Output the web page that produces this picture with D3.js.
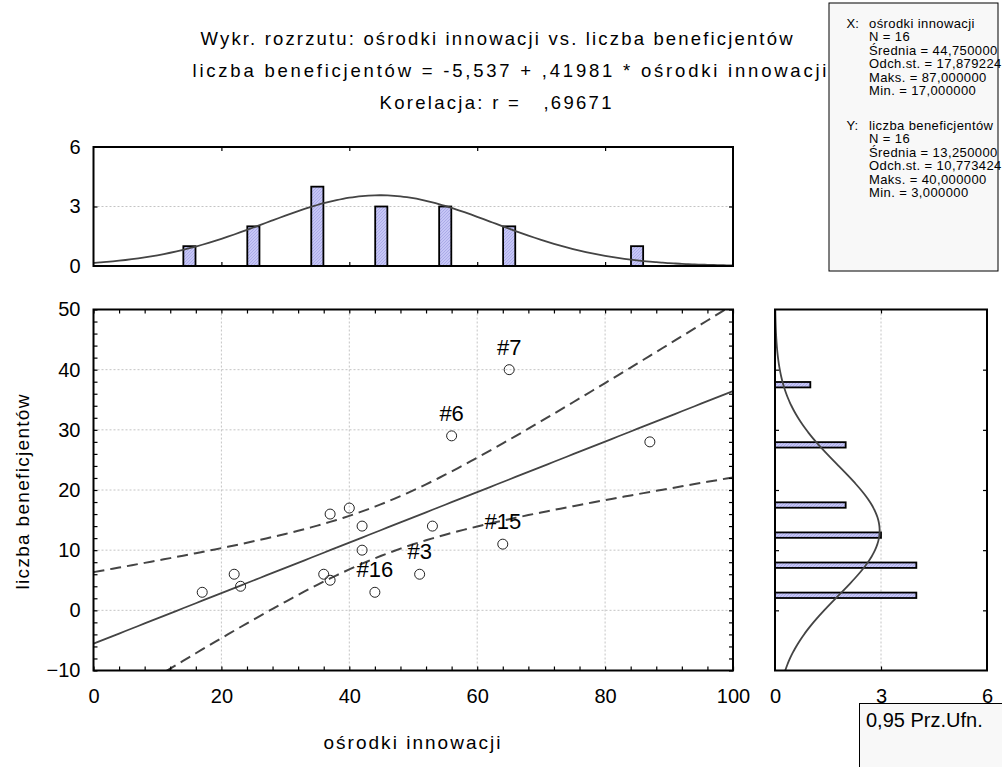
<!DOCTYPE html>
<html>
<head>
<meta charset="utf-8">
<script src="https://cdn.jsdelivr.net/npm/d3@7"></script>
<style>
  body { margin: 0; background: #fff; }
  svg text { font-family: 'Liberation Sans', Arial, sans-serif; fill: #000; }
</style>
</head>
<body>
<div id="chart"></div>
<script>
// values (case number = index + 1)
const caseX = [42, 37, 51, 22, 40, 56, 65, 36, 23, 87, 42, 17, 37, 53, 64, 44]
const caseY = [14, 16, 6, 6, 17, 29, 40, 6, 4, 28, 10, 3, 5, 14, 11, 3]
const labeledCases = [3, 6, 7, 15, 16]

const histXCenters = [15, 25, 35, 45, 55, 65, 85]
const histXCounts = [1, 2, 4, 3, 3, 2, 1]
const histYCenters = [2.5, 7.5, 12.5, 17.5, 27.5, 37.5]
const histYCounts = [4, 4, 3, 2, 2, 1]

const xTicks = [0, 20, 40, 60, 80, 100]
const yTicks = [-10, 0, 10, 20, 30, 40, 50]
const countTicks = [0, 3, 6]

// summary stats shown in the chart
const n = 16
const xMean = 44.75
const xSd = 17.879224
const xMax = 87
const xMin = 17
const yMean = 13.25
const ySd = 10.773424
const yMax = 40
const yMin = 3
const intercept = -5.537
const slope = 0.41981
const r = 0.69671
const tCrit = 2.1448 // t(0.975, 14)

const xName = 'ośrodki innowacji'
const yName = 'liczba beneficjentów'

const width = 1002
const height = 767

const main = { left: 93.5, right: 733, top: 309.5, bottom: 670.5 }
const topPanel = { top: 147, bottom: 266 }
const side = { left: 775, right: 987 }

const svg = d3
  .select('#chart')
  .append('svg')
  .attr('width', width)
  .attr('height', height)

// Scales

const xScale = d3.scaleLinear().domain([0, 100]).range([main.left, main.right])
const yScale = d3.scaleLinear().domain([-10, 50]).range([main.bottom, main.top])
const topCount = d3.scaleLinear().domain([0, 6]).range([topPanel.bottom, topPanel.top])
const sideCount = d3.scaleLinear().domain([0, 6]).range([side.left, side.right])

// hatch fill for the bars
const defs = svg.append('defs')
const pat = defs
  .append('pattern')
  .attr('id', 'hatch')
  .attr('patternUnits', 'userSpaceOnUse')
  .attr('width', 3)
  .attr('height', 3)
pat.append('rect').attr('width', 3).attr('height', 3).attr('fill', '#c6c6f6')
pat
  .append('path')
  .attr('d', 'M0,3 L3,0')
  .attr('stroke', '#a4a4e4')
  .attr('stroke-width', 0.8)

function clip(id, x, y, w, h) {
  defs
    .append('clipPath')
    .attr('id', id)
    .append('rect')
    .attr('x', x)
    .attr('y', y)
    .attr('width', w)
    .attr('height', h)
}
clip('clip-main', main.left, main.top, main.right - main.left, main.bottom - main.top)
clip('clip-top', main.left, topPanel.top, main.right - main.left, topPanel.bottom - topPanel.top)
clip('clip-side', side.left, main.top, side.right - side.left, main.bottom - main.top)

// Titles

const titleLines = [
  { text: 'Wykr. rozrzutu: ' + xName + ' vs. ' + yName, x: 200.5, y: 45, len: 592 },
  { text: yName + ' = -5,537 + ,41981 * ' + xName, x: 192.5, y: 77, len: 634 },
  { text: 'Korelacja: r =   ,69671', x: 379.5, y: 108.5, len: 232 }
]

svg
  .selectAll('.title')
  .data(titleLines)
  .enter()
  .append('text')
  .attr('class', 'title')
  .attr('x', d => d.x)
  .attr('y', d => d.y)
  .attr('font-size', 18.5)
  .attr('textLength', d => d.len)
  .attr('lengthAdjust', 'spacing')
  .style('white-space', 'pre')
  .text(d => d.text)

// Grid lines

const gridStyle = g =>
  g.attr('stroke', '#c4c4c4').attr('stroke-width', 1).attr('stroke-dasharray', '2,2')

svg
  .append('g')
  .call(gridStyle)
  .selectAll('line')
  .data([20, 40, 60, 80])
  .enter()
  .append('line')
  .attr('x1', d => xScale(d))
  .attr('x2', d => xScale(d))
  .attr('y1', main.top)
  .attr('y2', main.bottom)

svg
  .append('g')
  .call(gridStyle)
  .selectAll('line')
  .data([0, 10, 20, 30, 40])
  .enter()
  .append('line')
  .attr('x1', main.left)
  .attr('x2', main.right)
  .attr('y1', d => yScale(d))
  .attr('y2', d => yScale(d))

svg
  .append('line')
  .call(gridStyle)
  .attr('x1', main.left)
  .attr('x2', main.right)
  .attr('y1', topCount(3))
  .attr('y2', topCount(3))

svg
  .append('line')
  .call(gridStyle)
  .attr('x1', sideCount(3))
  .attr('x2', sideCount(3))
  .attr('y1', main.top)
  .attr('y2', main.bottom)

// Top histogram

svg
  .append('g')
  .selectAll('rect')
  .data(histXCenters)
  .enter()
  .append('rect')
  .attr('x', d => xScale(d - 0.95))
  .attr('width', d => xScale(d + 0.95) - xScale(d - 0.95))
  .attr('y', (d, i) => topCount(histXCounts[i]))
  .attr('height', (d, i) => topCount(0) - topCount(histXCounts[i]))
  .attr('fill', 'url(#hatch)')
  .attr('stroke', '#000')
  .attr('stroke-width', 1.8)

// fitted normal curve: n * bin width * pdf
const topCurve = d3.range(0, 100.5, 1).map(v => {
  const z = (v - xMean) / xSd
  return [v, (n * 10 * Math.exp(-0.5 * z * z)) / (xSd * Math.sqrt(2 * Math.PI))]
})

svg
  .append('path')
  .datum(topCurve)
  .attr('clip-path', 'url(#clip-top)')
  .attr('fill', 'none')
  .attr('stroke', '#444')
  .attr('stroke-width', 1.8)
  .attr('d', d3.line().x(d => xScale(d[0])).y(d => topCount(d[1])).curve(d3.curveBasis))

// Side histogram

svg
  .append('g')
  .selectAll('rect')
  .data(histYCenters)
  .enter()
  .append('rect')
  .attr('x', side.left)
  .attr('width', (d, i) => sideCount(histYCounts[i]) - side.left)
  .attr('y', d => yScale(d + 0.45))
  .attr('height', d => yScale(d - 0.45) - yScale(d + 0.45))
  .attr('fill', 'url(#hatch)')
  .attr('stroke', '#000')
  .attr('stroke-width', 1.8)

const sideCurve = d3.range(-10, 50.5, 0.5).map(v => {
  const z = (v - yMean) / ySd
  return [v, (n * 5 * Math.exp(-0.5 * z * z)) / (ySd * Math.sqrt(2 * Math.PI))]
})

svg
  .append('path')
  .datum(sideCurve)
  .attr('clip-path', 'url(#clip-side)')
  .attr('fill', 'none')
  .attr('stroke', '#444')
  .attr('stroke-width', 1.8)
  .attr('d', d3.line().x(d => sideCount(d[1])).y(d => yScale(d[0])).curve(d3.curveBasis))

// Regression line and 0.95 confidence band

const sResid = Math.sqrt(((1 - r * r) * (n - 1) * ySd * ySd) / (n - 2))
const ssx = (n - 1) * xSd * xSd
const band = d3.range(0, 100.5, 1).map(v => {
  const fit = intercept + slope * v
  const hw = tCrit * sResid * Math.sqrt(1 / n + ((v - xMean) * (v - xMean)) / ssx)
  return { x: v, fit: fit, lo: fit - hw, hi: fit + hw }
})

const plotArea = svg.append('g').attr('clip-path', 'url(#clip-main)')

plotArea
  .append('path')
  .datum(band)
  .attr('fill', 'none')
  .attr('stroke', '#444')
  .attr('stroke-width', 1.8)
  .attr('d', d3.line().x(d => xScale(d.x)).y(d => yScale(d.fit)))

;['lo', 'hi'].forEach(key => {
  plotArea
    .append('path')
    .datum(band)
    .attr('fill', 'none')
    .attr('stroke', '#444')
    .attr('stroke-width', 2)
    .attr('stroke-dasharray', '11,6')
    .attr('d', d3.line().x(d => xScale(d.x)).y(d => yScale(d[key])))
})

// Points

plotArea
  .selectAll('circle')
  .data(caseX)
  .enter()
  .append('circle')
  .attr('cx', d => xScale(d))
  .attr('cy', (d, i) => yScale(caseY[i]))
  .attr('r', 5)
  .attr('fill', 'none')
  .attr('stroke', '#222')
  .attr('stroke-width', 1)

svg
  .selectAll('.case-label')
  .data(labeledCases)
  .enter()
  .append('text')
  .attr('class', 'case-label')
  .attr('x', d => xScale(caseX[d - 1]))
  .attr('y', d => yScale(caseY[d - 1]) - 15)
  .attr('text-anchor', 'middle')
  .attr('font-size', 22)
  .text(d => '#' + d)

// Axes: tick marks pointing inward on every side

function ticks(axis, transform) {
  svg
    .append('g')
    .attr('transform', transform)
    .call(axis.tickFormat('').tickSizeOuter(0))
    .call(g => g.select('.domain').remove())
    .selectAll('line')
    .attr('stroke-width', 1.2)
}

ticks(d3.axisBottom(xScale).tickValues(d3.range(0, 101, 4)).tickSizeInner(-4), `translate(0,${main.bottom})`)
ticks(d3.axisTop(xScale).tickValues(d3.range(0, 101, 4)).tickSizeInner(-4), `translate(0,${main.top})`)
ticks(d3.axisLeft(yScale).tickValues(d3.range(-10, 51, 2)).tickSizeInner(-4), `translate(${main.left},0)`)
ticks(d3.axisRight(yScale).tickValues(d3.range(-10, 51, 2)).tickSizeInner(-4), `translate(${main.right},0)`)

ticks(d3.axisBottom(xScale).tickValues([20, 40, 60, 80]).tickSizeInner(-4), `translate(0,${topPanel.bottom})`)
ticks(d3.axisTop(xScale).tickValues([20, 40, 60, 80]).tickSizeInner(-4), `translate(0,${topPanel.top})`)
ticks(d3.axisLeft(topCount).tickValues([3]).tickSizeInner(-4), `translate(${main.left},0)`)
ticks(d3.axisRight(topCount).tickValues([3]).tickSizeInner(-4), `translate(${main.right},0)`)

ticks(d3.axisLeft(yScale).tickValues([0, 10, 20, 30, 40]).tickSizeInner(-4), `translate(${side.left},0)`)
ticks(d3.axisRight(yScale).tickValues([0, 10, 20, 30, 40]).tickSizeInner(-4), `translate(${side.right},0)`)
ticks(d3.axisBottom(sideCount).tickValues([3]).tickSizeInner(-4), `translate(0,${main.bottom})`)
ticks(d3.axisTop(sideCount).tickValues([3]).tickSizeInner(-4), `translate(0,${main.top})`)

// tick labels

function labels(axis, transform) {
  svg
    .append('g')
    .attr('transform', transform)
    .call(axis.tickSize(0).tickFormat(d3.format('d')))
    .attr('font-size', 20)
    .attr('font-family', "'Liberation Sans', Arial, sans-serif")
    .call(g => g.select('.domain').remove())
}

labels(d3.axisBottom(xScale).tickValues(xTicks).tickPadding(18), `translate(0,${main.bottom})`)
labels(d3.axisLeft(yScale).tickValues(yTicks).tickPadding(13), `translate(${main.left},0)`)
labels(d3.axisLeft(topCount).tickValues(countTicks).tickPadding(13), `translate(${main.left},0)`)
labels(d3.axisBottom(sideCount).tickValues(countTicks).tickPadding(18), `translate(0,${main.bottom})`)

// Frames

const frames = [
  [main.left, main.top, main.right, main.bottom],
  [main.left, topPanel.top, main.right, topPanel.bottom],
  [side.left, main.top, side.right, main.bottom]
]

svg
  .selectAll('.frame')
  .data(frames)
  .enter()
  .append('rect')
  .attr('class', 'frame')
  .attr('x', d => d[0])
  .attr('y', d => d[1])
  .attr('width', d => d[2] - d[0])
  .attr('height', d => d[3] - d[1])
  .attr('fill', 'none')
  .attr('stroke', '#000')
  .attr('stroke-width', 2)

// Axis titles

svg
  .append('text')
  .attr('x', 412)
  .attr('y', 749)
  .attr('text-anchor', 'middle')
  .attr('font-size', 19)
  .attr('textLength', 177)
  .attr('lengthAdjust', 'spacing')
  .text(xName)

svg
  .append('text')
  .attr('transform', 'translate(29,492) rotate(-90)')
  .attr('text-anchor', 'middle')
  .attr('font-size', 19)
  .attr('textLength', 195)
  .attr('lengthAdjust', 'spacing')
  .text(yName)

// Stats box

const fmt = v => v.toFixed(6).replace('.', ',')
const statsX = [xName, 'N = ' + n, 'Średnia = ' + fmt(xMean), 'Odch.st. = ' + fmt(xSd), 'Maks. = ' + fmt(xMax), 'Min. = ' + fmt(xMin)]
const statsY = [yName, 'N = ' + n, 'Średnia = ' + fmt(yMean), 'Odch.st. = ' + fmt(ySd), 'Maks. = ' + fmt(yMax), 'Min. = ' + fmt(yMin)]

svg
  .append('rect')
  .attr('x', 829)
  .attr('y', 3)
  .attr('width', 169)
  .attr('height', 268)
  .attr('fill', '#f8f8f8')
  .attr('stroke', '#000')
  .attr('stroke-width', 1)

const statsBlocks = [
  { head: 'X:', lines: statsX, y: 28 },
  { head: 'Y:', lines: statsY, y: 130 }
]

statsBlocks.forEach(b => {
  svg
    .append('text')
    .attr('x', 846.5)
    .attr('y', b.y)
    .attr('font-size', 13)
    .text(b.head)
  svg
    .append('g')
    .selectAll('text')
    .data(b.lines)
    .enter()
    .append('text')
    .attr('x', 869)
    .attr('y', (d, i) => b.y + i * 13.4)
    .attr('font-size', 13)
    .attr('letter-spacing', 0.4)
    .text(d => d)
})

// Legend box

svg
  .append('rect')
  .attr('x', 859.5)
  .attr('y', 703.5)
  .attr('width', 160)
  .attr('height', 80)
  .attr('fill', '#f8f8f8')
  .attr('stroke', '#000')
  .attr('stroke-width', 1)

svg
  .append('text')
  .attr('x', 866)
  .attr('y', 727)
  .attr('font-size', 20)
  .text('0,95 Prz.Ufn.')
</script>
</body>
</html>
